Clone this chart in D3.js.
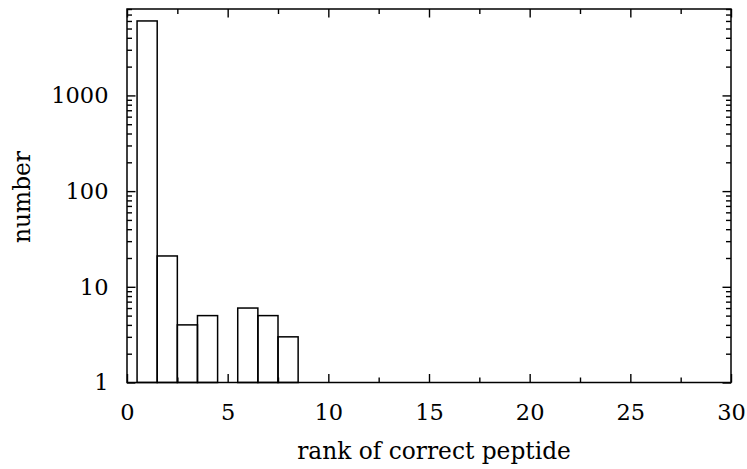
<!DOCTYPE html>
<html>
<head>
<meta charset="utf-8">
<script src="https://cdn.jsdelivr.net/npm/d3@7/dist/d3.min.js"></script>
<style>
  html, body { margin: 0; padding: 0; background: #fff; }
  svg { display: block; }
</style>
</head>
<body>
<svg id="chart" width="747" height="469"></svg>
<script>
// Histogram of the rank at which the correct peptide was found
const ranks  = [1, 2, 3, 4, 6, 7, 8];
const counts = [6000, 21, 4, 5, 6, 5, 3];

const xMajorTicks = [0, 5, 10, 15, 20, 25, 30];
const xMinorTicks = [2.5, 7.5, 12.5, 17.5, 22.5, 27.5];
const yMajorTicks = [1, 10, 100, 1000];
const yMinorTicks = [2, 3, 4, 5, 6, 7, 8, 9,
                     20, 30, 40, 50, 60, 70, 80, 90,
                     200, 300, 400, 500, 600, 700, 800, 900,
                     2000, 3000, 4000, 5000, 6000, 7000, 8000];
const xDomain = [0, 30];
const yDomain = [1, 8000];

const margin = { left: 127, right: 16, top: 9, bottom: 86.5 };
const W = 747, H = 469;
const svg = d3.select("#chart");

const x = d3.scaleLinear().domain(xDomain).range([margin.left, W - margin.right]);
const y = d3.scaleLog().domain(yDomain).range([H - margin.bottom, margin.top]);

const font = "DejaVu Serif";
const majorLen = 8.5, minorLen = 5;

// bars, one unit wide, centred on each rank
svg.append("g")
  .selectAll("rect")
  .data(ranks.map((r, i) => ({ r, c: counts[i] })))
  .join("rect")
  .attr("x", d => x(d.r - 0.5))
  .attr("width", d => x(d.r + 0.5) - x(d.r - 0.5))
  .attr("y", d => y(d.c))
  .attr("height", d => y(1) - y(d.c))
  .attr("fill", "none")
  .attr("stroke", "#000")
  .attr("stroke-width", 1.5);

function styleAxis(g) {
  g.attr("font-family", font);
  g.select(".domain").remove();
  g.selectAll(".tick line").attr("stroke", "#000").attr("stroke-width", 1.4);
}
function styleLabels(g) {
  g.selectAll(".tick text")
    .attr("font-family", font)
    .attr("font-size", 22.5)
    .attr("fill", "#000");
}

// bottom axis with labels, plus mirrored ticks along the top
svg.append("g")
  .attr("transform", `translate(0,${y(1)})`)
  .call(d3.axisBottom(x).tickValues(xMajorTicks).tickSize(-majorLen).tickPadding(majorLen + 13).tickFormat(d3.format("d")))
  .call(styleAxis)
  .call(styleLabels);
svg.append("g")
  .attr("transform", `translate(0,${y(1)})`)
  .call(d3.axisBottom(x).tickValues(xMinorTicks).tickSize(-minorLen).tickFormat(""))
  .call(styleAxis);
svg.append("g")
  .attr("transform", `translate(0,${margin.top})`)
  .call(d3.axisTop(x).tickValues(xMajorTicks).tickSize(-majorLen).tickFormat(""))
  .call(styleAxis);
svg.append("g")
  .attr("transform", `translate(0,${margin.top})`)
  .call(d3.axisTop(x).tickValues(xMinorTicks).tickSize(-minorLen).tickFormat(""))
  .call(styleAxis);

// left axis with labels, plus mirrored ticks along the right
svg.append("g")
  .attr("transform", `translate(${margin.left},0)`)
  .call(d3.axisLeft(y).tickValues(yMajorTicks).tickSize(-majorLen).tickPadding(majorLen + 10).tickFormat(d3.format("d")))
  .call(styleAxis)
  .call(styleLabels);
svg.append("g")
  .attr("transform", `translate(${margin.left},0)`)
  .call(d3.axisLeft(y).tickValues(yMinorTicks).tickSize(-minorLen).tickFormat(""))
  .call(styleAxis);
svg.append("g")
  .attr("transform", `translate(${W - margin.right},0)`)
  .call(d3.axisRight(y).tickValues(yMajorTicks).tickSize(-majorLen).tickFormat(""))
  .call(styleAxis);
svg.append("g")
  .attr("transform", `translate(${W - margin.right},0)`)
  .call(d3.axisRight(y).tickValues(yMinorTicks).tickSize(-minorLen).tickFormat(""))
  .call(styleAxis);

// plot frame
svg.append("rect")
  .attr("x", x(xDomain[0]))
  .attr("y", y(yDomain[1]))
  .attr("width", x(xDomain[1]) - x(xDomain[0]))
  .attr("height", y(yDomain[0]) - y(yDomain[1]))
  .attr("fill", "none")
  .attr("stroke", "#000")
  .attr("stroke-width", 1.5);

// axis titles
svg.append("text")
  .attr("x", 434)
  .attr("y", 459)
  .attr("text-anchor", "middle")
  .attr("font-family", font)
  .attr("font-size", 23.3)
  .text("rank of correct peptide");

svg.append("text")
  .attr("transform", `translate(30,197) rotate(-90)`)
  .attr("text-anchor", "middle")
  .attr("font-family", font)
  .attr("font-size", 23.3)
  .text("number");
</script>
</body>
</html>
